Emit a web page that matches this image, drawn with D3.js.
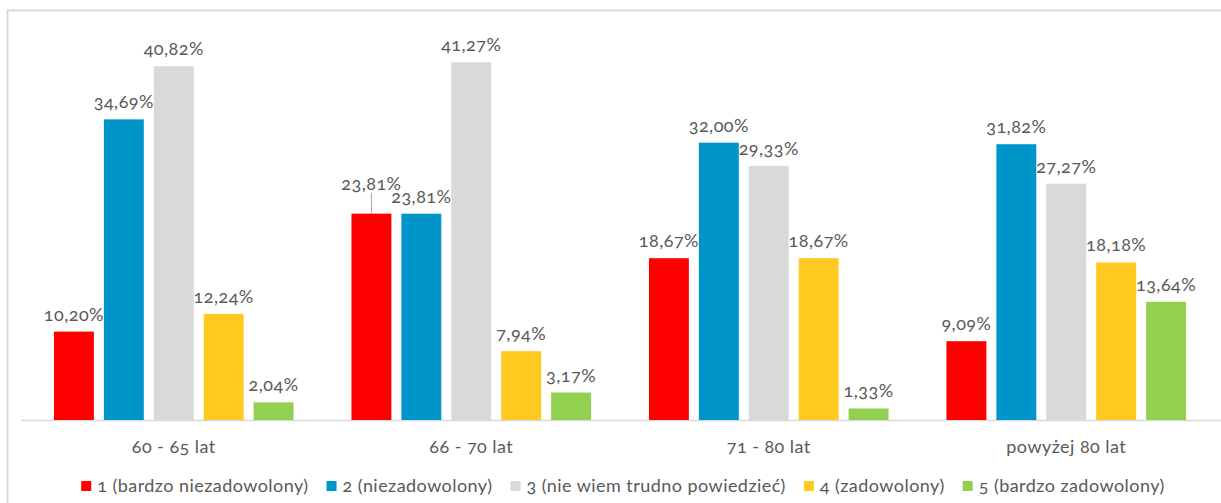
<!DOCTYPE html>
<html>
<head>
<meta charset="utf-8">
<script src="https://cdn.jsdelivr.net/npm/d3@7"></script>
<style>
  html, body { margin: 0; padding: 0; background: #fff; }
  svg { display: block; font-family: Lato, "Open Sans", sans-serif; font-variant-numeric: oldstyle-nums; font-feature-settings: "onum" 1; }
</style>
</head>
<body>
<svg id="chart" width="1221" height="503"></svg>
<script>
// Age groups and satisfaction levels
const categories = ["60 - 65 lat", "66 - 70 lat", "71 - 80 lat", "powyżej 80 lat"];
const seriesNames = [
  "1 (bardzo niezadowolony)",
  "2 (niezadowolony)",
  "3 (nie wiem trudno powiedzieć)",
  "4 (zadowolony)",
  "5 (bardzo zadowolony)"
];
const seriesColors = ["#FF0000", "#0095C9", "#D9D9D9", "#FFC91F", "#92D050"];

// Percent values per series, one entry per age group
const s1 = [10.20, 23.81, 18.67, 9.09];
const s2 = [34.69, 23.81, 32.00, 31.82];
const s3 = [40.82, 41.27, 29.33, 27.27];
const s4 = [12.24, 7.94, 18.67, 18.18];
const s5 = [2.04, 3.17, 1.33, 13.64];
const seriesValues = [s1, s2, s3, s4, s5];

const svg = d3.select("#chart");
const textColor = "#595959";
const fontSize = "18px";
const spacing = "0.45px";

// outer frame
svg.append("rect")
  .attr("x", 7.5).attr("y", 10.5)
  .attr("width", 1240).attr("height", 520)
  .attr("fill", "none").attr("stroke", "#D9D9D9").attr("stroke-width", 2);

const plotLeft = 25, plotRight = 1215, baseY = 420;

const x0 = d3.scaleBand().domain(categories).range([plotLeft, plotRight]).paddingInner(0).paddingOuter(0);
const x1 = d3.scaleBand().domain(d3.range(seriesNames.length))
  .range([0, x0.bandwidth()]).paddingInner(0.2).paddingOuter(0.58);
const y = d3.scaleLinear().domain([0, 45]).range([baseY, 30]);

const fmt = v => v.toFixed(2).replace(".", ",") + "%";

// category axis
const xAxis = svg.append("g").attr("transform", `translate(0,${baseY})`)
  .call(d3.axisBottom(x0).tickSize(0).tickPadding(20));
xAxis.select(".domain").attr("stroke", "#D9D9D9").attr("stroke-width", 1.3)
  .attr("d", `M${plotLeft - 4},0.5H${plotRight + 6}`);
xAxis.selectAll("text")
  .attr("fill", textColor)
  .style("font-size", fontSize)
  .style("letter-spacing", spacing)
  .style("font-family", "Lato, 'Open Sans', sans-serif");

// bars
const groups = svg.append("g").selectAll("g")
  .data(categories).join("g")
  .attr("transform", d => `translate(${x0(d)},0)`);

const cells = groups.selectAll("g.cell")
  .data((c, ci) => seriesValues.map((vals, si) => ({ si, ci, v: vals[ci] })))
  .join("g").attr("class", "cell");

cells.append("rect")
  .attr("x", d => x1(d.si))
  .attr("width", x1.bandwidth())
  .attr("y", d => y(d.v))
  .attr("height", d => baseY - y(d.v))
  .attr("fill", d => seriesColors[d.si]);

// value labels; the first label in the second group is lifted to clear its neighbour
const lifted = (d) => d.ci === 1 && d.si === 0;
cells.append("text")
  .attr("x", d => x1(d.si) + x1.bandwidth() / 2)
  .attr("y", d => y(d.v) - (lifted(d) ? 24 : 11))
  .attr("text-anchor", "middle")
  .attr("fill", textColor)
  .style("font-size", fontSize)
  .style("letter-spacing", spacing)
  .text(d => fmt(d.v));

cells.filter(lifted).append("line")
  .attr("x1", d => x1(d.si) + x1.bandwidth() / 2)
  .attr("x2", d => x1(d.si) + x1.bandwidth() / 2)
  .attr("y1", d => y(d.v) - 21)
  .attr("y2", d => y(d.v))
  .attr("stroke", "#A6A6A6").attr("stroke-width", 1);

// legend
const legend = svg.append("g").attr("transform", "translate(0,486)");
const items = legend.selectAll("g").data(seriesNames).join("g");
items.append("rect")
  .attr("width", 10).attr("height", 10).attr("y", -5)
  .attr("fill", (d, i) => seriesColors[i]);
items.append("text")
  .attr("x", 16).attr("dy", "0.35em")
  .attr("fill", textColor)
  .style("font-size", fontSize)
  .style("letter-spacing", spacing)
  .text(d => d);

const gap = 18;
let widths = [];
items.each(function () { widths.push(this.getBBox().width); });
const total = d3.sum(widths) + gap * (widths.length - 1);
let cx = 623 - total / 2;
items.attr("transform", (d, i) => {
  const t = `translate(${cx},0)`;
  cx += widths[i] + gap;
  return t;
});
</script>
</body>
</html>
